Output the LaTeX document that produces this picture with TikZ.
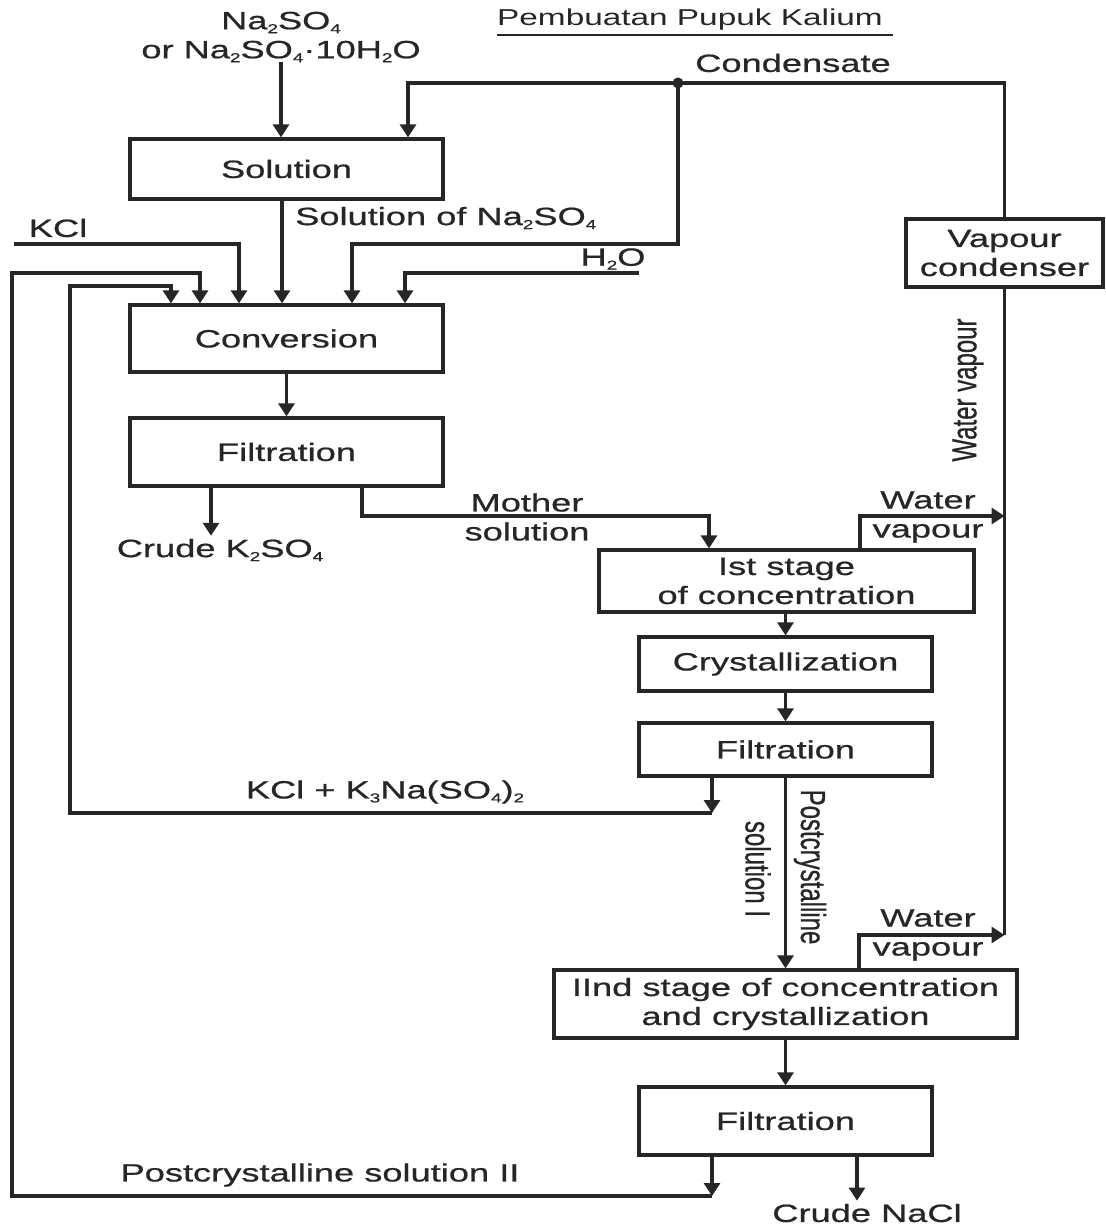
\documentclass[tikz,border=0pt]{standalone}
\usepackage{fontspec}
\usepackage{graphicx}
\setmainfont{Liberation Sans}[FakeStretch=1.45, FakeBold=0.7]
\newfontfamily\plainsans{Liberation Sans}[FakeBold=0.7]
\newfontfamily\titlesans{Liberation Sans}[FakeStretch=1.45]
\newcommand\chsub[1]{\raisebox{-0.3ex}{\fontsize{13}{13}\selectfont #1}}
\usetikzlibrary{arrows.meta}
\begin{document}
\begin{tikzpicture}[x=1pt,y=-1pt,
  ln/.style={line width=3.1pt, draw=black!85},
  arr/.style={ln, -{Triangle[width=16pt,length=13pt]}},
  box/.style={draw=black!85, line width=3.3pt, rectangle, inner sep=0pt, text=black!85,
    font=\fontsize{25}{29}\selectfont, align=center},
  lbl/.style={font=\fontsize{25}{29}\selectfont, align=center, inner sep=0pt, text=black!85},
]
\fill[white] (0,0) rectangle (1105,1230);
\useasboundingbox (0,0) rectangle (1105,1230);

% boxes
\node[box, minimum width=313pt, minimum height=60pt] (sol) at (286.5,169) {Solution};
\node[box, minimum width=313pt, minimum height=67pt] (conv) at (286.5,338.5) {Conversion};
\node[box, minimum width=313pt, minimum height=68pt] (filt1) at (286.5,452) {Filtration};
\node[box, minimum width=197pt, minimum height=68pt] (cond) at (1004.5,253) {Vapour\\condenser};
\node[box, minimum width=375pt, minimum height=62pt] (stage1) at (786.5,581) {Ist stage\\of concentration};
\node[box, minimum width=293pt, minimum height=54pt] (cryst) at (785.5,664) {Crystallization};
\node[box, minimum width=293pt, minimum height=53pt] (filt2) at (785.5,749.5) {Filtration};
\node[box, minimum width=463pt, minimum height=68pt] (stage2) at (785.5,1004) {IInd stage of concentration\\and crystallization};
\node[box, minimum width=293pt, minimum height=68pt] (filt3) at (785.5,1121) {Filtration};

% labels
\node[lbl, font=\titlesans\fontsize{23}{27}\selectfont] (title) at (690,20) {Pembuatan Pupuk Kalium};
\draw[line width=1.4pt, black!85] ([yshift=-4pt]title.south west) -- ([xshift=10pt,yshift=-4pt]title.south east);
\node[lbl] (naso) at (281,37) {Na\chsub{2}SO\chsub{4}\\or Na\chsub{2}SO\chsub{4}·10H\chsub{2}O};
\node[lbl] (condl) at (793,63) {Condensate};
\node[lbl, anchor=west] (solna) at (295,218) {Solution of Na\chsub{2}SO\chsub{4}};
\node[lbl] (kcl) at (58,228) {KCl};
\node[lbl] (h2o) at (613,259) {H\chsub{2}O};
\node[lbl, inner sep=3pt] (crk) at (220,550) {Crude K\chsub{2}SO\chsub{4}};
\node[lbl] (mother) at (527,517) {Mother\\solution};
\node[lbl] (wv1) at (928,517) {Water\\vapour};
\node[lbl, rotate=90] (wvr) at (968,390) {\scalebox{1}[1.45]{\plainsans\fontsize{24}{28}\selectfont Water vapour}};
\node[lbl] (kclk) at (385,792) {KCl + K\chsub{3}Na(SO\chsub{4})\chsub{2}};
\node[lbl, rotate=-90] (pc1) at (810,867) {\scalebox{1}[1.45]{\plainsans\fontsize{24}{28}\selectfont Postcrystalline}};
\node[lbl, rotate=-90] (pc2) at (758,869) {\scalebox{1}[1.45]{\plainsans\fontsize{24}{28}\selectfont solution I}};
\node[lbl] (wv2) at (928,935) {Water\\vapour};
\node[lbl] (pc2l) at (320,1175) {Postcrystalline solution II};
\node[lbl, inner sep=3pt] (crn) at (867,1213) {Crude NaCl};

% coordinates
\coordinate (jn) at (678,83);
\coordinate (cl) at (408,83);
\coordinate (h1) at (352,244);
\coordinate (h2s) at (639,273);
\coordinate (h2c) at (405,273);
\coordinate (sx) at (282,0);
\coordinate (kcs) at (14,244);
\coordinate (kcc) at (239,244);
\coordinate (o1) at (712,1196);
\coordinate (o2) at (12,1196);
\coordinate (o3) at (12,273);
\coordinate (o4) at (200,273);
\coordinate (i1) at (712,813);
\coordinate (i2) at (70,813);
\coordinate (i3) at (70,286);
\coordinate (i4) at (171,286);
\coordinate (ck) at (211,0);
\coordinate (m1) at (362,516);
\coordinate (m2) at (709,516);
\coordinate (w1) at (860,516);
\coordinate (w1e) at (1004.5,516);
\coordinate (vb) at (1004.5,935);
\coordinate (w2) at (859,935);
\coordinate (cn) at (857,0);

% connectors
\draw[arr] (naso.south) -- (naso.south |- sol.north);
\draw[arr] (cond.north) |- (cl) -- (cl |- sol.north);
\fill[black!85] (jn) circle (5.5pt);
\draw[arr] (jn) |- (h1) -- (h1 |- conv.north);
\draw[arr] (h2s) -- (h2c) -- (h2c |- conv.north);
\draw[arr] (sx |- sol.south) -- (sx |- conv.north);
\draw[arr] (kcs) -- (kcc) -- (kcc |- conv.north);
\draw[arr] (o1 |- filt3.south) -- (o1);
\draw[arr] (o1) -- (o2) -- (o3) -- (o4) -- (o4 |- conv.north);
\draw[arr] (i1 |- filt2.south) -- (i1);
\draw[arr] (i1) -- (i2) -- (i3) -- (i4) -- (i4 |- conv.north);
\draw[arr] (conv.south) -- (filt1.north);
\draw[arr] (ck |- filt1.south) -- (ck |- crk.north);
\draw[arr] (m1 |- filt1.south) -- (m1) -- (m2) -- (m2 |- stage1.north);
\draw[arr] (w1 |- stage1.north) -- (w1) -- (w1e);
\draw[ln] (cond.south) -- (vb);
\draw[arr] (w2 |- stage2.north) -- (w2) -- (vb);
\draw[arr] (cryst.north |- stage1.south) -- (cryst.north);
\draw[arr] (cryst.south) -- (filt2.north);
\draw[arr] (filt2.south) -- (stage2.north);
\draw[arr] (stage2.south) -- (filt3.north);
\draw[arr] (cn |- filt3.south) -- (cn |- crn.north);
\end{tikzpicture}
\end{document}
